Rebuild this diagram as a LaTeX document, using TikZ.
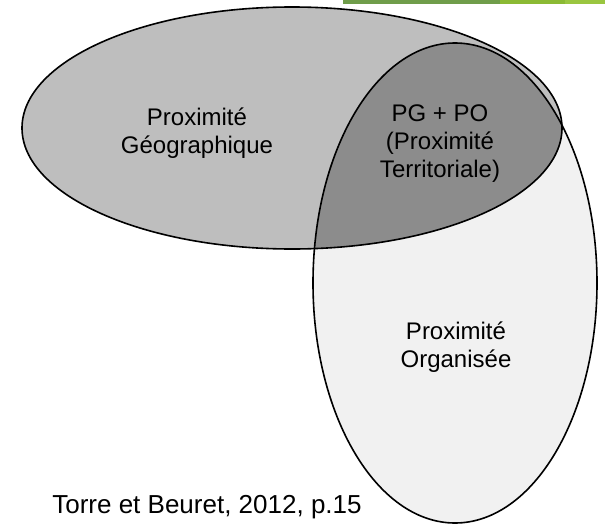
\documentclass[tikz,border=0pt]{standalone}
\usepackage{fontspec}
\setmainfont{Liberation Sans}
\definecolor{barDark}{HTML}{6F9D4A}
\definecolor{barMid}{HTML}{8BBA34}
\definecolor{barLight}{HTML}{9AC640}
\definecolor{geoGray}{HTML}{BEBEBE}
\definecolor{orgGray}{HTML}{F1F1F1}
\definecolor{terrGray}{HTML}{8C8C8C}
\begin{document}
\begin{tikzpicture}[x=1pt, y=-1pt,
    zone/.style={align=center, font=\fontsize{24}{28}\selectfont},
    outline/.style={draw=black, line width=1.6pt}]
    \useasboundingbox (0,0) rectangle (605,525);

    % Draw header bar
    \fill[barDark] (343,0) rectangle (500,4);
    \fill[barMid] (500,0) rectangle (565,4);
    \fill[barLight] (565,0) rectangle (605,4);

    % Draw the two areas
    \fill[geoGray] (292,128) ellipse [x radius=270pt, y radius=121pt];
    \fill[orgGray] (455,283) ellipse [x radius=142pt, y radius=240pt];

    % Draw the overlap
    \begin{scope}
        \clip (292,128) ellipse [x radius=270pt, y radius=121pt];
        \fill[terrGray] (455,283) ellipse [x radius=142pt, y radius=240pt];
    \end{scope}

    % Draw outlines
    \path[outline] (292,128) ellipse [x radius=270pt, y radius=121pt];
    \path[outline] (455,283) ellipse [x radius=142pt, y radius=240pt];

    % Draw labels
    \node[zone] (geo) at (197,133) {Proximité\\Géographique};
    \node[zone] (terr) at (440,144) {PG + PO\\(Proximité\\Territoriale)};
    \node[zone] (org) at (456,347) {Proximité\\Organisée};
    \node[anchor=base, font=\fontsize{26}{30}\selectfont] (source) at (207,513) {Torre et Beuret, 2012, p.15};
\end{tikzpicture}
\end{document}
